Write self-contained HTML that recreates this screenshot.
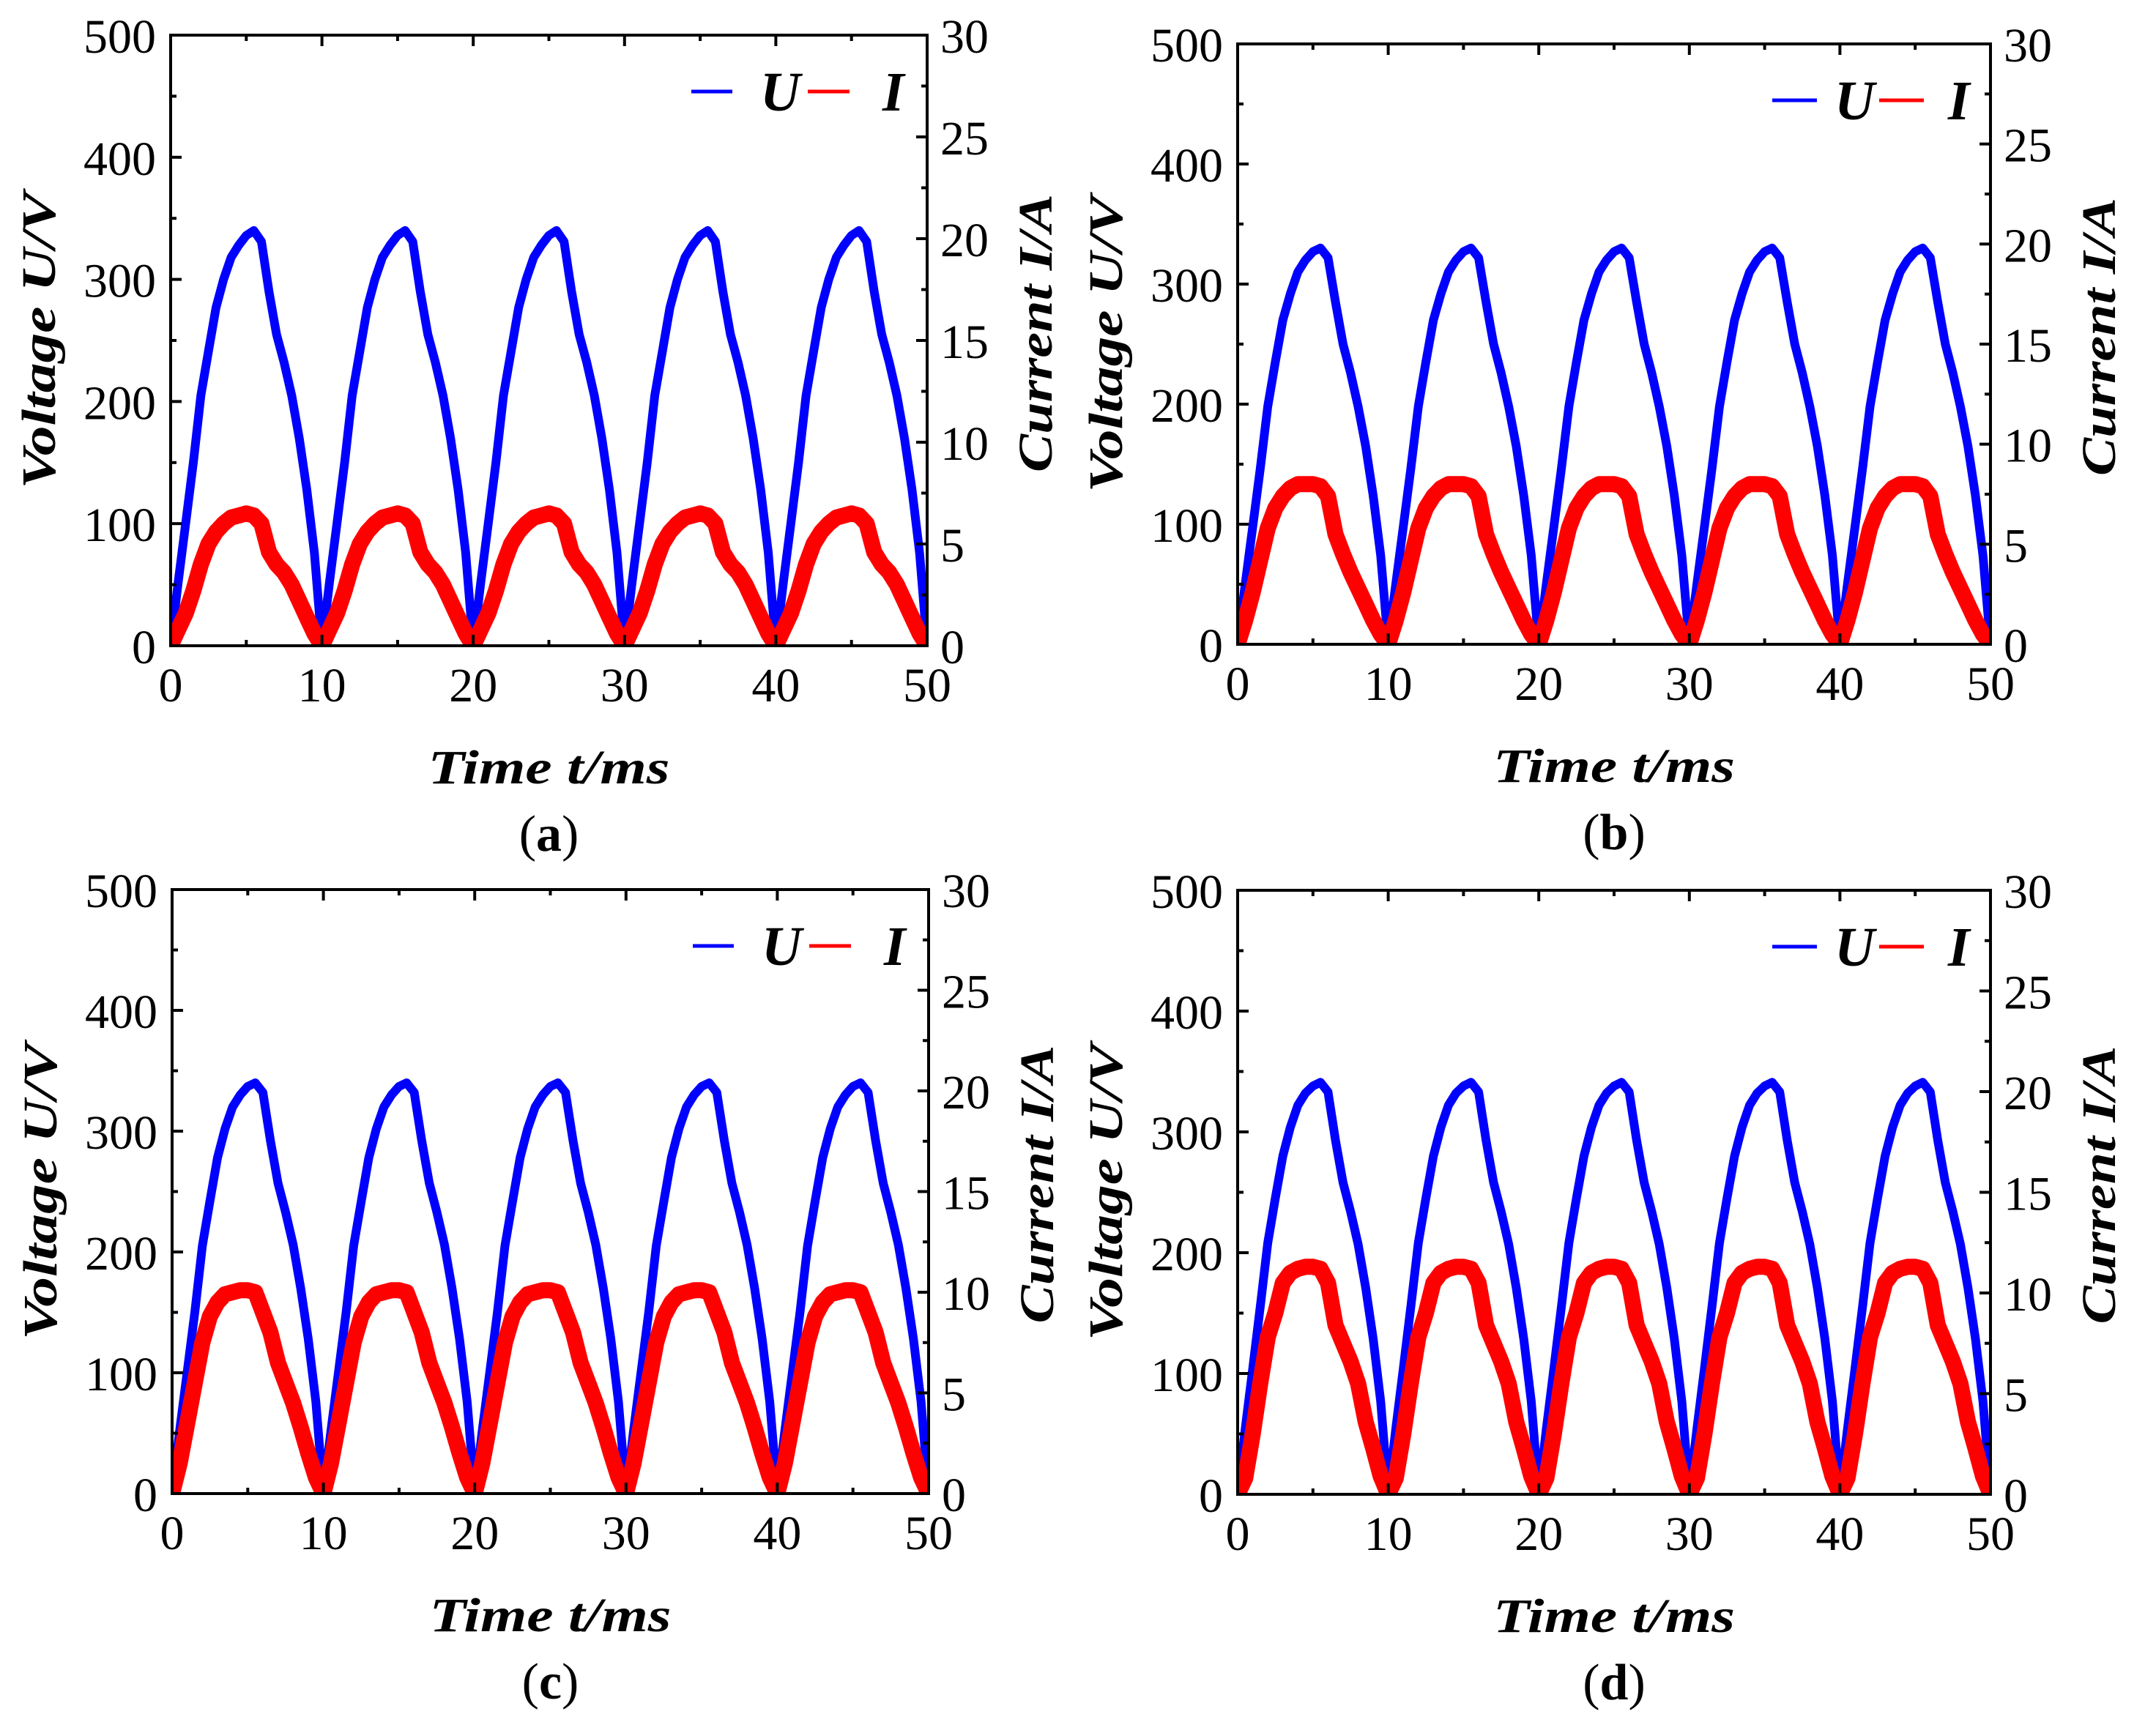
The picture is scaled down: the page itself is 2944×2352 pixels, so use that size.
<!DOCTYPE html>
<html><head><meta charset="utf-8"><title>Voltage and current waveforms</title>
<style>html,body{margin:0;padding:0;background:#fff}svg{display:block}text{font-family:"Liberation Serif",serif}</style>
</head><body>
<svg id="fig" xmlns="http://www.w3.org/2000/svg" width="2944" height="2352" viewBox="0 0 2944 2352"></svg>
<script>
// ---- data (one 10 ms cycle sampled every 0.5 ms; repeated for 5 cycles) ----
const cycleTimes = [0,0.5,1,1.5,2,2.5,3,3.5,4,4.5,5,5.5,6,6.5,7,7.5,8,8.5,9,9.5,10];
const voltageA = [0,52,101,150,205,241,277,300,318,328,336,340,331,290,255,232,205,170,128,76,0];
const currentA = [0,0.8,1.6,2.7,4.0,5.0,5.6,6.0,6.3,6.4,6.5,6.4,6.0,4.6,4.0,3.6,3.0,2.2,1.4,0.6,0];
const voltageB = [0,50,98,146,198,235,270,292,310,320,327,330,322,285,250,226,198,165,124,74,0];
const currentB = [0,1.2,2.6,4.2,5.8,6.8,7.4,7.8,8.0,8.0,8.0,7.9,7.4,5.5,4.5,3.6,2.8,2.0,1.2,0.5,0];
const voltageC = [0,52,101,150,205,242,278,302,320,330,337,340,332,292,257,233,206,170,128,76,0];
const currentC = [0,1.5,3.5,5.5,7.5,8.8,9.5,9.9,10.0,10.1,10.1,10.0,9.0,8.0,6.5,5.5,4.5,3.3,2.0,0.8,0];
const voltageD = [0,54,104,155,208,245,280,304,322,332,338,341,333,293,258,234,207,171,129,77,0];
const currentD = [0,0.8,3.0,5.5,7.8,9.0,10.5,11.0,11.2,11.3,11.3,11.2,10.5,8.4,7.5,6.6,5.5,3.6,2.3,0.9,0];
const cycles = [0,10,20,30,40];
const xTicks = [0,10,20,30,40,50];
const vTicks = [0,100,200,300,400,500];
const iTicks = [0,5,10,15,20,25,30];

const NS = "http://www.w3.org/2000/svg";
const svg = document.getElementById('fig');
function mk(tag, attrs, parent){const e=document.createElementNS(NS,tag);for(const k in attrs)e.setAttribute(k,attrs[k]);(parent||svg).appendChild(e);return e;}

const panels = [
 {id:'a', L:233, R:1266, T:48, B:882, V:voltageA, I:currentA, leg:[322,266,228,163,106,61]},
 {id:'b', L:1690, R:2718, T:60, B:880, V:voltageB, I:currentB, leg:[298,237,213,152,91,58]},
 {id:'c', L:235, R:1268, T:1215, B:2040, V:voltageC, I:currentC, leg:[322,266,228,163,106,61]},
 {id:'d', L:1690, R:2718, T:1216, B:2041, V:voltageD, I:currentD, leg:[298,237,213,152,91,58]}
];

panels.forEach(p=>{
  const g = mk('g',{});
  
  
  const xs = t => p.L + (t/50)*(p.R-p.L);
  const yv = v => p.B - (v/500)*(p.B-p.T);
  const yi = a => p.B - (a/30)*(p.B-p.T);
  const cp = mk('clipPath',{id:'clip'+p.id},g);
  mk('rect',{x:p.L,y:p.T-2,width:p.R-p.L,height:p.B-p.T+4},cp);
  let dV='', dI='';
  cycles.forEach((c,ci)=>{
    cycleTimes.forEach((t,k)=>{
      if(ci>0&&k===0) return;
      const cmd = (ci===0&&k===0)?'M':'L';
      dV += cmd+xs(c+t).toFixed(1)+','+yv(p.V[k]).toFixed(1)+' ';
      dI += cmd+xs(c+t).toFixed(1)+','+yi(p.I[k]).toFixed(1)+' ';
    });
  });
  const pv = mk('path',{d:dV,fill:'none',stroke:'#0000ff','stroke-width':12,'stroke-linejoin':'round','clip-path':'url(#clip'+p.id+')'},g);
  
  
  const pi = mk('path',{d:dI,fill:'none',stroke:'#ff0000','stroke-width':22,'stroke-linejoin':'round','clip-path':'url(#clip'+p.id+')'},g);
  
  
  const fr = mk('rect',{x:p.L,y:p.T,width:p.R-p.L,height:p.B-p.T,fill:'none',stroke:'#000','stroke-width':4},g);
  
  
  for(let t=0;t<=50;t+=5){
    const len = (t%10===0)?15:8;
    mk('line',{x1:xs(t),x2:xs(t),y1:p.B,y2:p.B-len,stroke:'#000','stroke-width':4},g);
    mk('line',{x1:xs(t),x2:xs(t),y1:p.T,y2:p.T+len,stroke:'#000','stroke-width':4},g);
  }
  xTicks.forEach(t=>{
    const tx = mk('text',{x:xs(t),y:p.B+76,'font-size':66,'text-anchor':'middle'},g);
    tx.textContent = t;
    
    
  });
  for(let v=0;v<=500;v+=50){
    const len = (v%100===0)?15:8;
    mk('line',{x1:p.L,x2:p.L+len,y1:yv(v),y2:yv(v),stroke:'#000','stroke-width':4},g);
  }
  vTicks.forEach(v=>{
    const tx = mk('text',{x:p.L-20,y:yv(v)+24,'font-size':66,'text-anchor':'end'},g);
    tx.textContent = v;
    
    
  });
  for(let a=0;a<=30;a+=2.5){
    const len = (a%5===0)?15:8;
    mk('line',{x1:p.R,x2:p.R-len,y1:yi(a),y2:yi(a),stroke:'#000','stroke-width':4},g);
  }
  iTicks.forEach(a=>{
    const tx = mk('text',{x:p.R+18,y:yi(a)+24,'font-size':66,'text-anchor':'start'},g);
    tx.textContent = a;
    
    
  });
  const cy = (p.T+p.B)/2;
  const lt = mk('text',{x:0,y:0,'font-size':66,'font-weight':'bold','font-style':'italic','text-anchor':'middle',transform:`translate(${p.L-158},${cy}) rotate(-90)`,textLength:405,lengthAdjust:'spacingAndGlyphs'},g);
  lt.textContent='Voltage  U/V';
  
  
  const rt = mk('text',{x:0,y:0,'font-size':66,'font-weight':'bold','font-style':'italic','text-anchor':'middle',transform:`translate(${p.R+170},${cy-10}) rotate(-90)`,textLength:380,lengthAdjust:'spacingAndGlyphs'},g);
  rt.textContent='Current  I/A';
  
  
  const xt = mk('text',{x:(p.L+p.R)/2,y:p.B+188,'font-size':66,'font-weight':'bold','font-style':'italic','text-anchor':'middle',textLength:330,lengthAdjust:'spacingAndGlyphs'},g);
  xt.textContent='Time  t/ms';
  
  
  const pl = mk('text',{x:(p.L+p.R)/2,y:p.B+280,'font-size':70,'text-anchor':'middle'},g);
  pl.innerHTML='(<tspan font-weight="bold">'+p.id+'</tspan>)';
  
  
  const ly = p.T+77, lg = p.leg;
  const leg = mk('g',{},g);
  
  
  mk('line',{x1:p.R-lg[0],x2:p.R-lg[1],y1:ly,y2:ly,stroke:'#0000ff','stroke-width':5},leg);
  const lu = mk('text',{x:p.R-lg[2],y:ly+26,'font-size':76,'font-weight':'bold','font-style':'italic'},leg);
  lu.textContent='U';
  
  
  mk('line',{x1:p.R-lg[3],x2:p.R-lg[4],y1:ly,y2:ly,stroke:'#ff0000','stroke-width':5},leg);
  const li = mk('text',{x:p.R-lg[5],y:ly+26,'font-size':76,'font-weight':'bold','font-style':'italic'},leg);
  li.textContent='I';
  
  
});
</script>
</body></html>
